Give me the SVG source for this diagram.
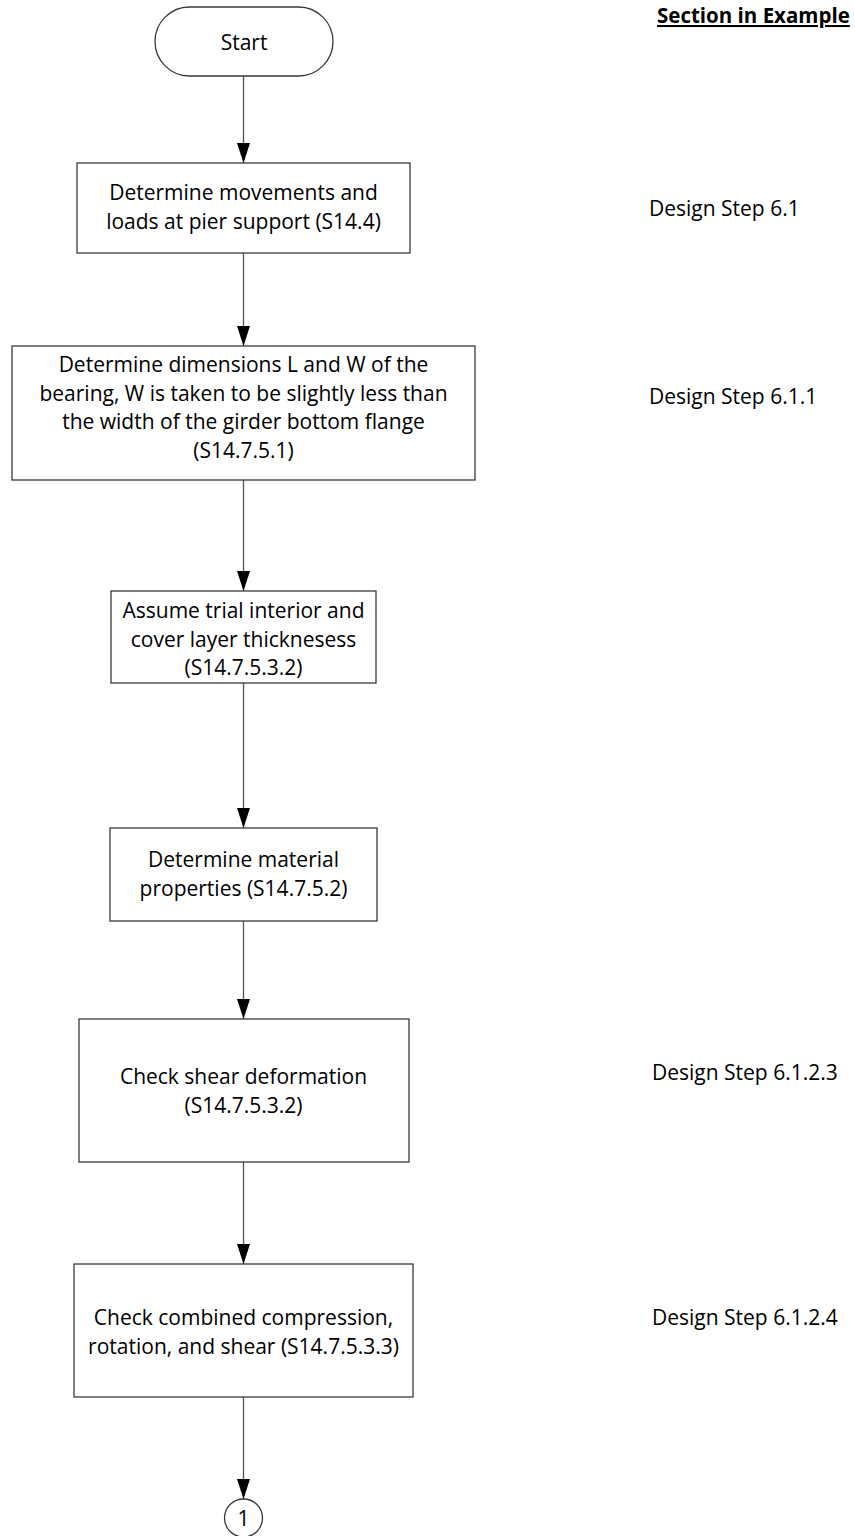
<svg xmlns="http://www.w3.org/2000/svg" width="855" height="1536" viewBox="0 0 855 1536">
<style>
.box{fill:#ffffff;stroke:#3a3a3a;stroke-width:1.3}
.t{font-family:"Open Sans","Liberation Sans",sans-serif;font-size:21px;fill:#000;text-anchor:middle}
.r{font-family:"Open Sans","Liberation Sans",sans-serif;font-size:21px;fill:#000}
.h{font-family:"Open Sans","Liberation Sans",sans-serif;font-size:20.5px;font-weight:bold;fill:#000;text-decoration:underline}
.c{stroke:#555555;stroke-width:1.3;fill:none;marker-end:url(#ah)}
</style>
<defs>
<marker id="ah" markerUnits="userSpaceOnUse" markerWidth="20" markerHeight="14" refX="20" refY="6.5" orient="auto" viewBox="0 0 20 13">
<path d="M0,0 L20,6.5 L0,13 Z" fill="#000"/>
</marker>
</defs>
<rect width="855" height="1536" fill="#ffffff"/>
<g id="connectors">
<line class="c" x1="243.5" y1="76" x2="243.5" y2="163"/>
<line class="c" x1="243.5" y1="253" x2="243.5" y2="346"/>
<line class="c" x1="243.5" y1="480" x2="243.5" y2="591"/>
<line class="c" x1="243.5" y1="683" x2="243.5" y2="828"/>
<line class="c" x1="243.5" y1="921" x2="243.5" y2="1019"/>
<line class="c" x1="243.5" y1="1162" x2="243.5" y2="1264"/>
<line class="c" x1="243.5" y1="1397" x2="243.5" y2="1499"/>
</g>
<g id="start">
<rect class="box" x="155" y="7" width="178" height="69" rx="34.5" ry="34.5"/>
<text class="t" x="244" y="50">Start</text>
</g>
<g id="n1">
<rect class="box" x="77" y="163" width="333" height="90"/>
<text class="t" x="243.5" y="200">Determine movements and</text>
<text class="t" x="243.5" y="229">loads at pier support (S14.4)</text>
</g>
<g id="n2">
<rect class="box" x="12" y="346" width="463" height="134"/>
<text class="t" x="243.5" y="372">Determine dimensions L and W of the</text>
<text class="t" x="243.5" y="400.5">bearing, W is taken to be slightly less than</text>
<text class="t" x="243.5" y="429">the width of the girder bottom flange</text>
<text class="t" x="243.5" y="457.5">(S14.7.5.1)</text>
</g>
<g id="n3">
<rect class="box" x="111" y="591" width="265" height="92"/>
<text class="t" x="243.5" y="618">Assume trial interior and</text>
<text class="t" x="243.5" y="647">cover layer thicknesess</text>
<text class="t" x="243.5" y="675">(S14.7.5.3.2)</text>
</g>
<g id="n4">
<rect class="box" x="110" y="828" width="267" height="93"/>
<text class="t" x="243.5" y="867">Determine material</text>
<text class="t" x="243.5" y="896">properties (S14.7.5.2)</text>
</g>
<g id="n5">
<rect class="box" x="79" y="1019" width="330" height="143"/>
<text class="t" x="243.5" y="1084">Check shear deformation</text>
<text class="t" x="243.5" y="1113">(S14.7.5.3.2)</text>
</g>
<g id="n6">
<rect class="box" x="74" y="1264" width="339" height="133"/>
<text class="t" x="243.5" y="1325">Check combined compression,</text>
<text class="t" x="243.5" y="1354">rotation, and shear (S14.7.5.3.3)</text>
</g>
<g id="end">
<circle class="box" cx="243.5" cy="1518" r="19"/>
<text class="t" x="243.5" y="1525.5">1</text>
</g>
<g id="labels">
<text class="h" x="657" y="23">Section in Example</text>
<text class="r" x="649" y="216">Design Step 6.1</text>
<text class="r" x="649" y="404">Design Step 6.1.1</text>
<text class="r" x="652" y="1080">Design Step 6.1.2.3</text>
<text class="r" x="652" y="1325">Design Step 6.1.2.4</text>
</g>
</svg>
